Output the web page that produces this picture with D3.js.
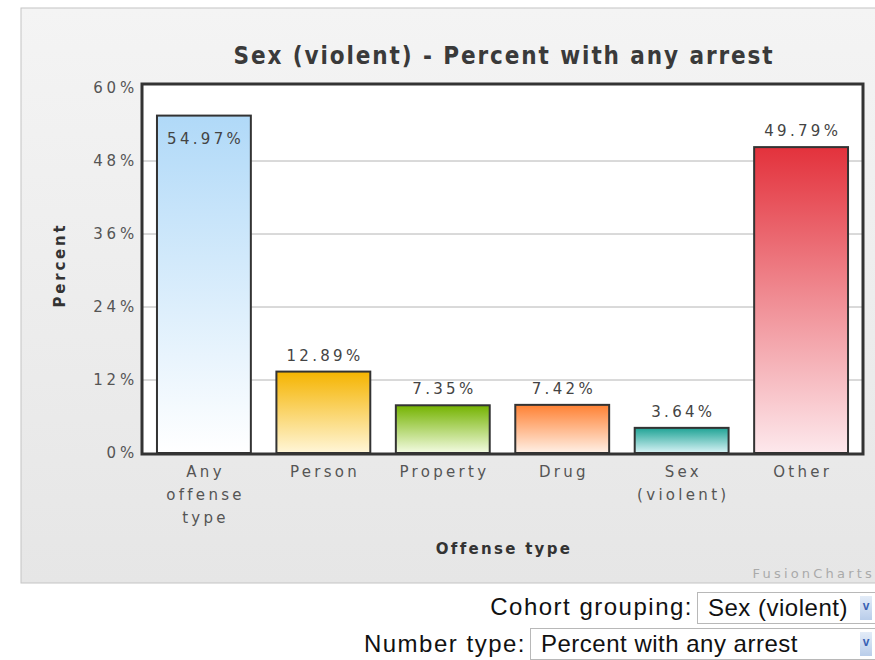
<!DOCTYPE html>
<html>
<head>
<meta charset="utf-8">
<script src="https://cdn.jsdelivr.net/npm/d3@7"></script>
<style>
  body { margin: 0; background: #fff; overflow: hidden; }
  #chart { position: absolute; left: 0; top: 0; }
  .ctrl { position: absolute; font-family: "Liberation Sans", Arial, sans-serif; font-size: 24px; letter-spacing: 1.5px; color: #111; }
  .box { position: absolute; border: 1px solid #b8b8b8; background: #fff; font-family: "Liberation Sans", Arial, sans-serif; font-size: 24px; letter-spacing: 0.5px; color: #111; box-sizing: border-box; padding-left: 10px; line-height: 29px; white-space: nowrap; }
  .arrow { position: absolute; top: 3px; width: 12px; height: 24px; background: linear-gradient(#e3ecf8, #b9cdea); color: #3a62b4; font-size: 12px; line-height: 20px; text-align: center; font-weight: bold; letter-spacing: 0; }
</style>
</head>
<body>
<div id="chart"></div>
<div class="ctrl" style="right:182px; top:593px;">Cohort grouping:</div>
<div class="box" style="left:697px; top:592px; width:190px; height:32px;">Sex (violent)<div class="arrow" style="left:162px">v</div></div>
<div class="ctrl" style="right:349px; top:630px;">Number type:</div>
<div class="box" style="left:530px; top:628px; width:360px; height:32px;">Percent with any arrest<div class="arrow" style="left:329px">v</div></div>
<script>
const categories = ["Any offense type", "Person", "Property", "Drug", "Sex (violent)", "Other"];
const categoryLines = [["Any", "offense", "type"], ["Person"], ["Property"], ["Drug"], ["Sex", "(violent)"], ["Other"]];
const values = [54.97, 12.89, 7.35, 7.42, 3.64, 49.79];
const yTicks = [0, 12, 24, 36, 48, 60];
const barColors = ["#b0d9f8", "#f5b400", "#74b300", "#ff8133", "#1fa395", "#e3323c"];
const barLight = ["#ffffff", "#fff6d8", "#f3fbe2", "#fff0e6", "#d8f3f6", "#fde8ec"];

const W = 875, H = 660;
const plot = { left: 143, right: 862, top: 88, bottom: 453 };
const font = "'DejaVu Sans', Verdana, sans-serif";
const ls = 3.3;

const svg = d3.select("#chart").append("svg")
    .attr("width", W).attr("height", H);

const defs = svg.append("defs");
const bg = defs.append("linearGradient").attr("id", "bg").attr("x1", 0).attr("y1", 0).attr("x2", 0).attr("y2", 1);
bg.append("stop").attr("offset", "0%").attr("stop-color", "#f4f4f4");
bg.append("stop").attr("offset", "100%").attr("stop-color", "#e6e6e6");

barColors.forEach((c, i) => {
    const g = defs.append("linearGradient").attr("id", "bar" + i)
        .attr("x1", 0).attr("y1", 0).attr("x2", 0).attr("y2", 1);
    g.append("stop").attr("offset", "0%").attr("stop-color", c);
    g.append("stop").attr("offset", "100%").attr("stop-color", barLight[i]);
});

// outer panel
svg.append("rect").attr("x", 21).attr("y", 8).attr("width", W).attr("height", 575)
    .attr("fill", "url(#bg)").attr("stroke", "#c4c4c4");

const x = d3.scaleBand()
    .domain(categories)
    .range([plot.left, plot.right])
    .paddingInner(0.214)
    .paddingOuter(0.117);

const y = d3.scaleLinear()
    .domain([0, 60])
    .range([plot.bottom, plot.top]);

// plot background
svg.append("rect")
    .attr("x", plot.left).attr("y", plot.top - 4)
    .attr("width", plot.right - plot.left).attr("height", plot.bottom - plot.top + 4)
    .attr("fill", "#fff");

// gridlines
svg.append("g").selectAll("line")
    .data(yTicks.filter(d => d > 0 && d < 60))
    .enter().append("line")
    .attr("x1", plot.left).attr("x2", plot.right)
    .attr("y1", d => y(d)).attr("y2", d => y(d))
    .attr("stroke", "#b4b4b4").attr("stroke-width", 1);

// y axis labels
const yAxis = svg.append("g")
    .attr("transform", `translate(${plot.left},0)`)
    .call(d3.axisLeft(y).tickValues(yTicks).tickSize(0).tickPadding(5).tickFormat(d => d + "%"));
yAxis.select(".domain").remove();
yAxis.selectAll("text")
    .style("font-family", font).style("font-size", "15px").style("letter-spacing", "3.8px")
    .attr("fill", "#555");

// bars
svg.append("g").selectAll("rect")
    .data(values)
    .enter().append("rect")
    .attr("x", (d, i) => x(categories[i]))
    .attr("y", d => y(d) - 3)
    .attr("width", x.bandwidth())
    .attr("height", d => plot.bottom - y(d) + 3)
    .attr("fill", (d, i) => `url(#bar${i})`)
    .attr("stroke", "#333").attr("stroke-width", 2);

// value labels
svg.append("g").selectAll("text")
    .data(values)
    .enter().append("text")
    .attr("x", (d, i) => x(categories[i]) + x.bandwidth() / 2 + ls / 2)
    .attr("y", d => d > 52 ? y(d) + 25 : y(d) - 14)
    .attr("text-anchor", "middle")
    .style("font-family", font).style("font-size", "15px").style("letter-spacing", ls + "px")
    .attr("fill", "#444")
    .text(d => d.toFixed(2) + "%");

// plot frame
svg.append("rect")
    .attr("x", plot.left - 1).attr("y", plot.top - 4)
    .attr("width", plot.right - plot.left + 2).attr("height", plot.bottom - plot.top + 5)
    .attr("fill", "none").attr("stroke", "#333").attr("stroke-width", 3);

// x category labels
const xl = svg.append("g").selectAll("text")
    .data(categoryLines)
    .enter().append("text")
    .attr("text-anchor", "middle")
    .style("font-family", font).style("font-size", "15px").style("letter-spacing", ls + "px")
    .attr("fill", "#555");
xl.each(function (lines, i) {
    d3.select(this).selectAll("tspan")
        .data(lines)
        .enter().append("tspan")
        .attr("x", x(categories[i]) + x.bandwidth() / 2 + ls / 2)
        .attr("y", (l, j) => 477 + j * 23)
        .text(l => l);
});

// title
svg.append("text")
    .attr("x", 504).attr("y", 64)
    .attr("text-anchor", "middle")
    .style("font-family", "'DejaVu Sans Condensed', 'DejaVu Sans', sans-serif")
    .style("font-size", "24px").style("font-weight", "bold").style("letter-spacing", "1.9px")
    .attr("fill", "#3a3a3a")
    .text("Sex (violent) - Percent with any arrest");

// axis titles
svg.append("text")
    .attr("transform", "rotate(-90)")
    .attr("x", -265).attr("y", 65)
    .attr("text-anchor", "middle")
    .style("font-family", font).style("font-size", "15px").style("font-weight", "bold").style("letter-spacing", "2.8px")
    .attr("fill", "#333")
    .text("Percent");

svg.append("text")
    .attr("x", 504).attr("y", 554)
    .attr("text-anchor", "middle")
    .style("font-family", font).style("font-size", "15px").style("font-weight", "bold").style("letter-spacing", "2.3px")
    .attr("fill", "#333")
    .text("Offense type");

svg.append("text")
    .attr("x", 875).attr("y", 578)
    .attr("text-anchor", "end")
    .style("font-family", font).style("font-size", "13px").style("letter-spacing", "3.2px")
    .attr("fill", "#aaa")
    .text("FusionCharts");
</script>
</body>
</html>
